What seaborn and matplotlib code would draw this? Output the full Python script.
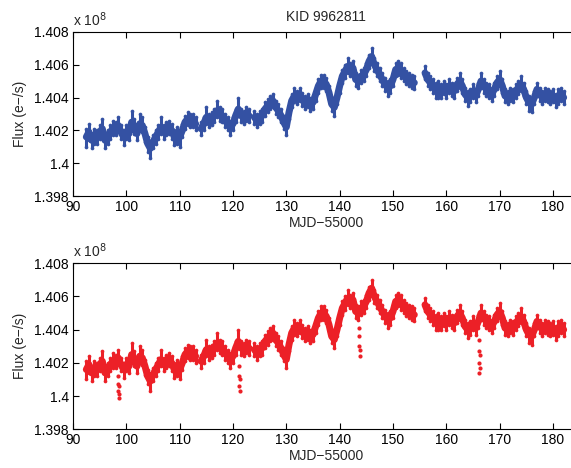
import matplotlib
matplotlib.use('Agg')
import matplotlib.pyplot as plt
from matplotlib import ticker
import pandas as pd
import seaborn as sns

# ---- data (flux in units of 1e8 e-/s) ----
mjd = [92.5, 93.0, 93.5, 94.0, 94.5, 95.0, 95.5, 96.0, 96.5, 97.0, 97.5, 98.0, 98.5, 99.0,
       99.5, 100.0, 100.5, 101.0, 101.5, 102.0, 102.5, 103.0, 103.5, 104.0, 104.5, 105.0,
       105.5, 106.0, 106.5, 107.0, 107.5, 108.0, 108.5, 109.0, 109.5, 110.0, 110.5, 111.0,
       111.5, 112.0, 112.5, 113.0,
       114.0, 114.5, 115.0, 115.5, 116.0, 116.5, 117.0, 117.5, 118.0, 118.5, 119.0, 119.5,
       120.0, 120.5, 121.0, 121.5, 122.0, 122.5, 123.0,
       124.0, 124.5, 125.0, 125.5, 126.0, 126.5, 127.0, 127.5, 128.0, 128.5, 129.0, 129.5,
       130.0, 130.5, 131.0, 131.5, 132.0, 132.5, 133.0, 133.5, 134.0, 134.5, 135.0, 135.5,
       136.0, 136.5, 137.0, 137.5, 138.0, 138.5, 139.0, 139.5, 140.0, 140.5, 141.0, 141.5,
       142.0, 142.5, 143.0, 143.5, 144.0, 144.5, 145.0, 145.5, 146.0, 146.5, 147.0, 147.5,
       148.0, 148.5, 149.0, 149.5, 150.0, 150.5, 151.0, 151.5, 152.0, 152.5, 153.0, 153.5,
       154.0,
       156.0, 156.5, 157.0, 157.5, 158.0, 158.5, 159.0, 159.5, 160.0, 160.5, 161.0, 161.5,
       162.0, 162.5, 163.0, 163.5, 164.0, 164.5, 165.0, 165.5, 166.0, 166.5, 167.0, 167.5,
       168.0, 168.5, 169.0, 169.5, 170.0, 170.5, 171.0, 171.5, 172.0, 172.5, 173.0, 173.5,
       174.0, 174.5, 175.0, 175.5, 176.0, 176.5, 177.0, 177.5, 178.0, 178.5, 179.0, 179.5,
       180.0, 180.5, 181.0, 181.5, 182.0]

# centre of the scatter band
flux = [1.4016, 1.4019, 1.4014, 1.4017, 1.4016, 1.4019, 1.4021, 1.4014, 1.4016, 1.4019,
        1.4021, 1.4021, 1.4023, 1.4019, 1.4016, 1.4019, 1.4018, 1.4025, 1.4022, 1.4018,
        1.4024, 1.4023, 1.4018, 1.4012, 1.4009, 1.4013, 1.4016, 1.4019, 1.4022, 1.4019,
        1.4021, 1.4022, 1.4020, 1.4016, 1.4018, 1.4016, 1.4020, 1.4025, 1.4027, 1.4026,
        1.4026, 1.4024,
        1.4021, 1.4024, 1.4028, 1.4026, 1.4027, 1.4029, 1.4032, 1.4030, 1.4029, 1.4026,
        1.4024, 1.4022, 1.4024, 1.4029, 1.4033, 1.4029, 1.4028, 1.4030, 1.4029,
        1.4028, 1.4026, 1.4028, 1.4029, 1.4033, 1.4035, 1.4037, 1.4038, 1.4034, 1.4032,
        1.4029, 1.4025, 1.4022, 1.4031, 1.4038, 1.4041, 1.4040, 1.4042, 1.4039, 1.4037,
        1.4038, 1.4036, 1.4037, 1.4042, 1.4047, 1.4050, 1.4050, 1.4048, 1.4043, 1.4036,
        1.4034, 1.4040, 1.4047, 1.4053, 1.4056, 1.4059, 1.4057, 1.4058, 1.4051, 1.4050,
        1.4053, 1.4054, 1.4057, 1.4062, 1.4065, 1.4060, 1.4057, 1.4054, 1.4051, 1.4048,
        1.4046, 1.4047, 1.4051, 1.4057, 1.4058, 1.4056, 1.4054, 1.4052, 1.4051, 1.4050,
        1.4049,
        1.4055, 1.4051, 1.4049, 1.4047, 1.4045, 1.4046, 1.4044, 1.4046, 1.4044, 1.4047,
        1.4045, 1.4044, 1.4048, 1.4050, 1.4047, 1.4042, 1.4040, 1.4041, 1.4044, 1.4041,
        1.4045, 1.4050, 1.4047, 1.4045, 1.4044, 1.4042, 1.4045, 1.4049, 1.4051, 1.4047,
        1.4041, 1.4040, 1.4042, 1.4041, 1.4044, 1.4046, 1.4048, 1.4045, 1.4040, 1.4037,
        1.4036, 1.4040, 1.4045, 1.4042, 1.4040, 1.4042, 1.4041, 1.4040, 1.4041, 1.4038,
        1.4041, 1.4042, 1.4040]

# how far the band reaches above / below its centre (units of 1e-4)
band_up = [5, 5, 4, 4, 4, 4, 6, 4, 4, 4, 5, 4, 5, 4, 4, 4, 4, 7, 5, 4, 6, 5, 4, 4, 4, 4,
           4, 4, 6, 4, 4, 4, 4, 4, 4, 4, 4, 4, 4, 4, 4, 4,
           4, 4, 6, 4, 4, 4, 6, 4, 4, 4, 4, 4, 4, 4, 7, 4, 4, 4, 4,
           4, 4, 4, 4, 4, 4, 4, 4, 4, 4, 4, 4, 4, 4, 4, 5, 4, 4, 4, 4, 4, 4, 4, 4,
           4, 4, 4, 4, 4, 4, 4, 4, 4, 4, 4, 5, 4, 4, 4, 4, 4, 4, 4, 4, 5, 4, 4, 4,
           4, 4, 4, 4, 4, 4, 4, 5, 4, 4, 4, 4, 4,
           4, 4, 4, 4, 4, 4, 4, 4, 4, 4, 4, 4, 4, 5, 4, 4, 4, 4, 4, 4, 4, 5, 4, 4,
           4, 4, 4, 4, 5, 4, 4, 4, 4, 4, 4, 4, 5, 4, 4, 4, 4, 4, 4, 4, 4, 4, 4, 4,
           4, 4, 4, 4, 4]
band_dn = [6, 5, 5, 5, 4, 4, 4, 5, 4, 4, 4, 4, 4, 4, 5, 4, 4, 4, 4, 4, 4, 4, 5, 5, 6, 4,
           4, 4, 4, 4, 4, 4, 5, 5, 6, 6, 4, 4, 4, 4, 4, 4,
           4, 4, 4, 4, 4, 4, 4, 4, 4, 4, 4, 5, 4, 4, 4, 4, 4, 4, 4,
           4, 4, 4, 4, 4, 4, 4, 4, 4, 4, 4, 4, 5, 4, 4, 4, 4, 4, 4, 4, 4, 4, 4, 4,
           4, 4, 4, 4, 4, 4, 5, 4, 4, 4, 4, 4, 4, 4, 4, 4, 4, 4, 4, 4, 4, 4, 4, 4,
           4, 4, 5, 4, 4, 4, 4, 4, 4, 4, 4, 4, 4,
           4, 4, 4, 4, 5, 6, 4, 4, 4, 4, 4, 4, 4, 4, 4, 4, 5, 4, 4, 4, 4, 4, 4, 4,
           4, 4, 4, 4, 4, 4, 4, 4, 4, 4, 4, 4, 4, 4, 4, 5, 5, 4, 4, 4, 4, 4, 4, 4,
           4, 4, 5, 4, 4]

# transit-like dips that only show up in the lower (red) light curve
dip_mjd = [98.40, 98.45, 98.50, 98.55, 98.60, 98.65,
           121.10, 121.15, 121.20, 121.25, 121.30,
           143.60, 143.65, 143.70, 143.75, 143.80,
           166.05, 166.10, 166.15, 166.20, 166.25, 166.30]
dip_flux = [1.4012, 1.4007, 1.4003, 1.3999, 1.4001, 1.4006,
            1.4018, 1.4012, 1.4006, 1.4003, 1.4010,
            1.4041, 1.4036, 1.4030, 1.4024, 1.4028,
            1.4034, 1.4027, 1.4020, 1.4014, 1.4017, 1.4025]

BLUE = '#3451a3'
RED = '#ec2027'
FS = 10

df = pd.DataFrame({'mjd': mjd, 'flux': flux})
df['hi'] = df['flux'] + pd.Series(band_up) * 1e-4
df['lo'] = df['flux'] - pd.Series(band_dn) * 1e-4
# break the curve where there are data gaps
df['seg'] = (df['mjd'].diff() > 0.75).cumsum()
dips = pd.DataFrame({'mjd': dip_mjd, 'flux': dip_flux})

sns.set_theme(style='ticks')
plt.rcParams['font.family'] = ['Liberation Sans', 'DejaVu Sans']
plt.rcParams['axes.linewidth'] = 0.8

fig = plt.figure(figsize=(5.71, 4.68), dpi=100)
ax1 = fig.add_axes([0.1278, 0.581, 0.8874, 0.351])
ax2 = fig.add_axes([0.1278, 0.0827, 0.8874, 0.3547])


def draw(ax, color, extra=None):
    # the dense cloud of points: vertical strokes for the spread + a core line
    ax.vlines(df['mjd'], df['lo'], df['hi'], color=color, linewidth=2.2)
    sns.lineplot(data=df, x='mjd', y='flux', units='seg', estimator=None, ax=ax,
                 color=color, linewidth=5, solid_capstyle='round',
                 solid_joinstyle='round', legend=False)
    sns.scatterplot(data=df, x='mjd', y='hi', ax=ax, color=color, s=7,
                    linewidth=0, legend=False)
    sns.scatterplot(data=df, x='mjd', y='lo', ax=ax, color=color, s=7,
                    linewidth=0, legend=False)
    if extra is not None:
        sns.scatterplot(data=extra, x='mjd', y='flux', ax=ax, color=color, s=9,
                        linewidth=0, legend=False)
    ax.set_xlim(90, 185)
    ax.set_ylim(1.398, 1.408)
    ax.set_xticks(range(90, 181, 10))
    ax.set_yticks([1.398, 1.400, 1.402, 1.404, 1.406, 1.408])
    ax.yaxis.set_major_formatter(ticker.FuncFormatter(lambda v, p: f'{v:g}'))
    ax.tick_params(direction='in', top=True, right=False, length=4, width=0.8,
                   labelsize=FS, colors='black', pad=3)
    for s in ax.spines.values():
        s.set_color('black')
    ax.spines['right'].set_visible(False)
    ax.set_xlabel('MJD\u221255000', fontsize=FS, labelpad=1)
    ax.set_ylabel('Flux (e\u2212/s)', fontsize=FS, labelpad=5)
    ax.text(0.0, 1.02, r'x 10$^{8}$', transform=ax.transAxes, fontsize=FS,
            ha='left', va='bottom')


draw(ax1, BLUE)
ax1.set_title('KID 9962811', fontsize=FS, pad=8)
draw(ax2, RED, dips)

fig.savefig('out.png', dpi=100)
